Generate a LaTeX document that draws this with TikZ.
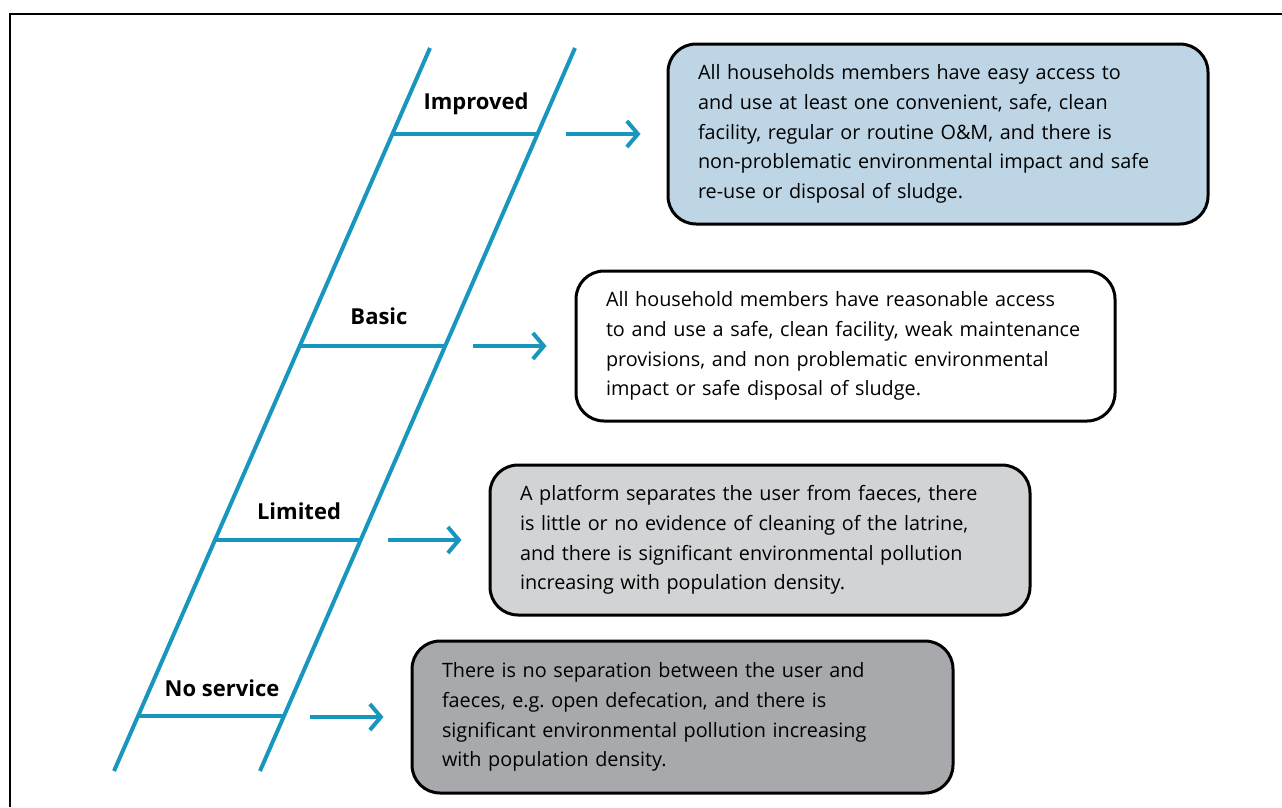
\documentclass[tikz,border=0pt]{standalone}
\usepackage{fontspec}
\setmainfont{Open Sans}
\usetikzlibrary{arrows.meta}
\frenchspacing
\definecolor{ladder}{RGB}{24,150,190}
\definecolor{fillA}{RGB}{189,213,228}
\definecolor{fillC}{RGB}{209,211,212}
\definecolor{fillD}{RGB}{167,169,172}
\tikzset{
  rail/.style={draw=ladder, line width=4pt},
  lvl/.style={font=\fontsize{22}{26}\selectfont\bfseries, inner sep=0pt},
  arr/.style={draw=ladder, line width=4pt, -{Straight Barb[length=11pt,width=26pt,line width=4pt]}},
  box/.style={draw=black, line width=3pt, rounded corners=28pt, inner xsep=30pt, inner ysep=0pt,
    align=left, font=\fontsize{19.8}{29.7}\selectfont},
}
\begin{document}
\begin{tikzpicture}[x=1pt,y=-1pt]
\useasboundingbox (0,0) rectangle (1282,807);
\draw[line width=2pt] (10,807) -- (10,14) -- (1282,14);
% rails
\coordinate (lt) at (430,48);
\coordinate (lb) at (114,771);
\coordinate (rt) at (575,48);
\coordinate (rb) at (260,771);
\draw[rail] (lt) -- (lb);
\draw[rail] (rt) -- (rb);
% rungs
\coordinate (r1a) at (392.4,134); \coordinate (r1b) at (537.5,134);
\coordinate (r2a) at (299.8,346); \coordinate (r2b) at (445.2,346);
\coordinate (r3a) at (215.0,540); \coordinate (r3b) at (360.6,540);
\coordinate (r4a) at (138.1,716); \coordinate (r4b) at (283.8,716);
\draw[rail] (r1a) -- (r1b);
\draw[rail] (r2a) -- (r2b);
\draw[rail] (r3a) -- (r3b);
\draw[rail] (r4a) -- (r4b);
% labels
\node[lvl] (l1) at (476,104) {Improved};
\node[lvl] (l2) at (379,316) {Basic};
\node[lvl] (l3) at (299,511) {Limited};
\node[lvl] (l4) at (222,688) {No service};
% boxes
\node[box, fill=fillA, text width=480pt, minimum height=180pt] (b1) at (938,134)
 {All households members have easy access to\\and use at least one convenient, safe, clean\\facility, regular or routine O\&M, and there is\\non-problematic environmental impact and safe\\re-use or disposal of sludge.};
\node[box, fill=white, text width=479pt, minimum height=150pt] (b2) at (845.5,346)
 {All household members have reasonable access\\to and use a safe, clean facility, weak maintenance\\provisions, and non problematic environmental\\impact or safe disposal of sludge.};
\node[box, fill=fillC, text width=480pt, minimum height=150pt] (b3) at (760,540)
 {A platform separates the user from faeces, there\\is little or no evidence of cleaning of the latrine,\\and there is significant environmental pollution\\increasing with population density.};
\node[box, fill=fillD, text width=481pt, minimum height=152pt] (b4) at (682.5,717)
 {There is no separation between the user and\\faeces, e.g. open defecation, and there is\\significant environmental pollution increasing\\with population density.};
% arrows
\coordinate (a1) at (566,134);
\coordinate (a2) at (473,346);
\coordinate (a3) at (388,540);
\coordinate (a4) at (310,717);
\draw[arr] (a1) -- ([xshift=-26pt]b1.west);
\draw[arr] (a2) -- ([xshift=-28pt]b2.west);
\draw[arr] (a3) -- ([xshift=-27pt]b3.west);
\draw[arr] (a4) -- ([xshift=-27pt]b4.west);
\end{tikzpicture}
\end{document}
